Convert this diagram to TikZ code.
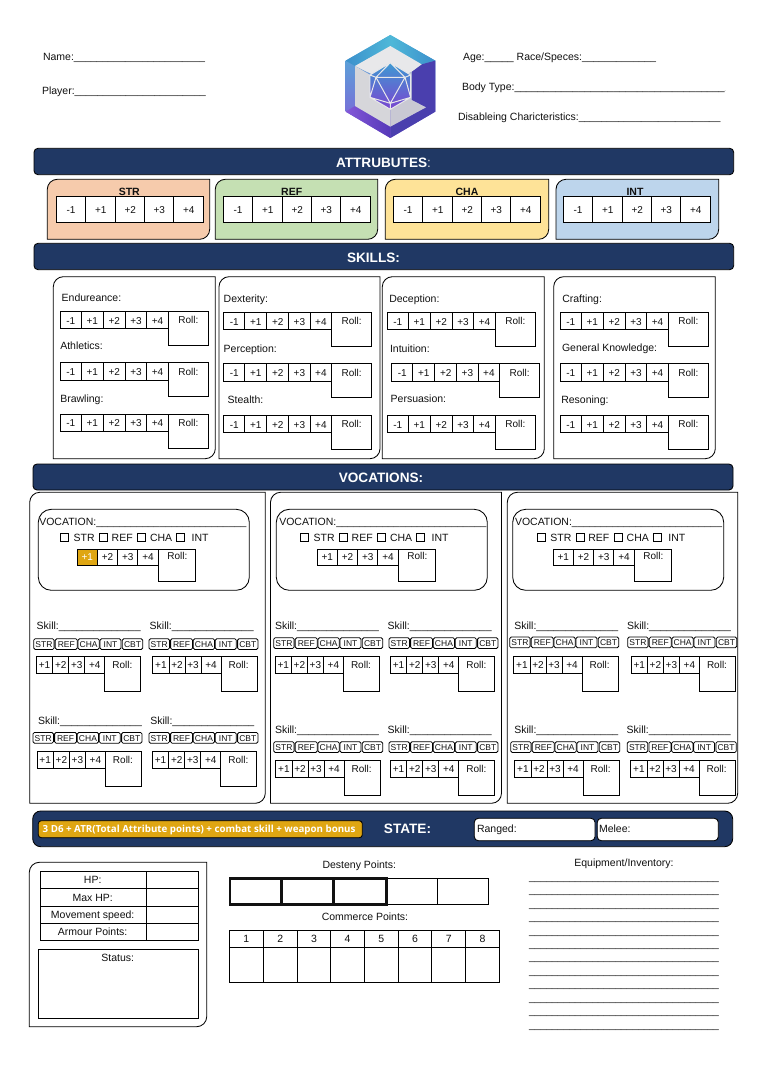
\documentclass[tikz,border=0pt]{standalone}
\usepackage{fontspec}
\setmainfont{Liberation Sans}
\newfontfamily\goldfont{Open Sans}
\definecolor{navy}{HTML}{203864}
\definecolor{gold}{HTML}{DFA612}
\definecolor{cstr}{HTML}{F6CBAC}
\definecolor{cref}{HTML}{C5E0B3}
\definecolor{ccha}{HTML}{FEE398}
\definecolor{cint}{HTML}{BDD5EC}
\definecolor{ink}{HTML}{111111}
\definecolor{lgA}{HTML}{4FB8D8}
\definecolor{lgB}{HTML}{3C90CC}
\definecolor{lgC}{HTML}{5F86D4}
\definecolor{lgD}{HTML}{8458D8}
\definecolor{lgE}{HTML}{4A3FAE}
\definecolor{lgF}{HTML}{5538B8}
\definecolor{lgG}{HTML}{E8E8EA}
\definecolor{lgH}{HTML}{D6D6DA}
\definecolor{lgI}{HTML}{C9C9D3}
\definecolor{lgJ}{HTML}{3E9AD2}
\definecolor{lgK}{HTML}{5B50D0}
\definecolor{lgL}{HTML}{7A45D0}
\ExplSyntaxOn
\cs_new:Npn \usl #1 {\prg_replicate:nn{#1}{\_}}
\ExplSyntaxOff
\newcommand\uslf[2]{{\fontsize{#2}{12}\selectfont\usl{#1}}}
\newcounter{nn}
\tikzset{
 ln/.style={draw=black,line width=0.85pt},
 txt/.style={inner sep=0pt,outer sep=0pt,text=ink,font=\fontsize{10.5}{12}\selectfont,/utils/exec={\stepcounter{nn}},name/.expanded=t\arabic{nn}},
 small/.style={font=\fontsize{10}{12}\selectfont},
 tiny/.style={font=\fontsize{8.5}{10}\selectfont},
 bar/.style={draw=black,line width=0.85pt,fill=navy,rounded corners=4pt},
 bartext/.style={txt,text=white,font=\fontsize{13.6}{16}\selectfont\bfseries},
 tagbox/.style={draw=black,line width=0.8pt,fill=white,rounded corners=1.5pt},
}
\newcommand\ctext[4][]{\node[txt,anchor=base,#1] at (#2,#3+3.7) {#4};}
\newcommand\ltext[4][]{\node[txt,anchor=base west,#1] at (#2,#3+3.7) {#4};}
% panel with rounded top-left and bottom-right corners
\newcommand\tlbr[6]{\path[#6] (#1,#4) -- (#1,#2+#5) .. controls (#1,#2+0.45*#5) and (#1+0.45*#5,#2) .. (#1+#5,#2) -- (#3,#2) -- (#3,#4-#5) .. controls (#3,#4-0.45*#5) and (#3-0.45*#5,#4) .. (#3-#5,#4) -- cycle;}
% attribute table
\newcommand\attr[6]{%
 \tlbr{#1}{179.3}{#2}{239.3}{10}{ln,fill=#3}
 \ctext[font=\fontsize{10.5}{12}\selectfont\bfseries]{#4}{191.7}{#5}
 \foreach \a/\b/\t in {0/29.4/-1,29.4/59.4/+1,59.4/88.4/+2,88.4/117.4/+3,117.4/147.4/+4}{
  \path[ln,fill=white] (#6+\a,196.3) rectangle (#6+\b,222.3);
  \ctext[small]{#6+0.5*\a+0.5*\b}{209.3}{\t}
 }}
% skills table: label, table x, label x, label y, table y
\newcommand\skillrow[5]{%
 \ltext{#3}{#4}{#1}
 \foreach \a/\b/\t in {0/21/-1,21/43/+1,43/65/+2,65/86.4/+3,86.4/108/+4}{
  \path[ln] (#2+\a,#5) rectangle (#2+\b,#5+17.3);
  \ctext[small]{#2+0.5*\a+0.5*\b}{#5+9}{\t}
 }
 \path[ln] (#2+108,#5) rectangle (#2+148,#5+34);
 \ctext[small]{#2+128}{#5+8.7}{Roll:}}
% vocation block
\newcommand\vocblock[4]{%
 \path[ln,rounded corners=13pt] (#1,509.3) rectangle (#1+211,590.3);
 \ltext{#1+#4}{521.3}{VOCATION:\uslf{26}{10.38}}
 \foreach \o/\s/\q in {0/13.4/STR,39/51.4/REF,77/89.7/CHA,116/131.4/INT}{
  \path[ln] (#2+\o,533.7) rectangle (#2+\o+8,541.7);
  \ltext{#2+\s}{537.3}{\q}
 }
 \foreach \a/\b/\t in {0/20/+1,20/40.4/+2,40.4/60.4/+3,60.4/81/+4}{
  \path[ln] (#3+\a,549.3) rectangle (#3+\b,565.7);
  \ctext[small]{#3+0.5*\a+0.5*\b}{556.9}{\t}
 }
 \path[ln] (#3+81,549.3) rectangle (#3+118.4,581.3);
 \ctext[small]{#3+100}{555.9}{Roll:}}
% skill cluster: label, tags and table
\newcommand\cluster[6]{%
 \ltext{#1}{#2}{Skill:\usl{14}}
 \foreach \o/\w/\q in {0/20.4/STR,21.6/22/REF,44.3/21.3/CHA,66.3/21/INT,88.6/20.4/CBT}{
  \path[tagbox] (#3+\o,#4) rectangle (#3+\o+\w,#4+10.8);
  \ctext[tiny]{#3+\o+0.5*\w}{#4+5.2}{\q}
 }
 \foreach \a/\b/\t in {0/16.4/+1,16.4/32.4/+2,32.4/48.4/+3,48.4/68.4/+4}{
  \path[ln] (#5+\a,#6) rectangle (#5+\b,#6+17);
  \ctext[small]{#5+0.5*\a+0.5*\b}{#6+8.3}{\t}
 }
 \path[ln] (#5+68.4,#6) rectangle (#5+104.4,#6+35);
 \ctext[small]{#5+86}{#6+8.3}{Roll:}}
\begin{document}
\begin{tikzpicture}[x=1pt,y=-1pt]
\useasboundingbox (0,0) rectangle (762,1079);
\fill[white] (0,0) rectangle (762,1079);

% header text
\ltext{43}{57}{Name:\uslf{23}{10.25}}
\ltext{42}{91}{Player:\uslf{23}{10.25}}
\ltext{463}{57}{Age:\usl{5} Race/Speces:\uslf{13}{10.24}}
\ltext{462}{87}{Body Type:\usl{36}\uslf{1}{2}}
\ltext{458}{117}{Disableing Charicteristics:\uslf{25}{10.2}}

% logo
\begin{scope}[shift={(320,20)},x=0.3333pt,y=-0.3333pt]
 \shade[top color=lgA,middle color=lgC,bottom color=lgD]
   (211,45) -- (346,122) -- (346,275) -- (211,354) -- (77,275) -- (77,122) -- cycle;
 \shade[left color=lgB,right color=lgA]
   (77,122) -- (211,45) -- (211,78) -- (105,138) -- cycle;
 \shade[left color=lgA,right color=lgB]
   (211,45) -- (346,122) -- (305,133) -- (211,78) -- cycle;
 \fill[lgE] (346,122) -- (346,275) -- (211,354) -- (211,320) -- (318,262) -- (275,240) -- (275,155) -- (305,133) -- cycle;
 \shade[left color=lgD,right color=lgF]
   (77,275) -- (211,354) -- (211,320) -- (105,258) -- cycle;
 \fill[lgG] (211,78) -- (305,133) -- (275,155) -- (211,190) -- (105,138) -- cycle;
 \fill[lgH] (105,138) -- (211,200) -- (211,320) -- (105,258) -- cycle;
 \fill[lgI] (211,200) -- (275,155) -- (275,240) -- (318,262) -- (211,320) -- cycle;
 \shade[top color=lgJ,middle color=lgK,bottom color=lgL]
   (211,128) -- (272,165) -- (272,232) -- (211,268) -- (150,232) -- (150,165) -- cycle;
 \draw[lgG,line width=1pt,line join=round]
   (211,128) -- (272,165) -- (272,232) -- (211,268) -- (150,232) -- (150,165) -- cycle
   (168,172) -- (255,172) -- (211,250) -- cycle
   (211,128) -- (168,172) (211,128) -- (255,172)
   (150,165) -- (168,172) (272,165) -- (255,172)
   (150,232) -- (168,172) (272,232) -- (255,172)
   (150,232) -- (211,250) (272,232) -- (211,250) (211,250) -- (211,268);
\end{scope}

% bars
\path[bar] (34,148.3) rectangle (733.7,174.7);
\node[bartext,anchor=base] (attrtitle) at (383.5,167.5) {ATTRUBUTES\textcolor{white!85!black}{\mdseries:}};
\path[bar] (34,243.3) rectangle (733.7,269.7);
\node[bartext,anchor=base] (skilltitle) at (373.5,262.2) {SKILLS:};
\path[bar] (33,464) rectangle (733,490);
\node[bartext,anchor=base] (voctitle) at (381,482) {VOCATIONS:};

% attributes
\attr{47.3}{209.7}{cstr}{129.3}{STR}{56.3}
\attr{215.3}{377.7}{cref}{291.7}{REF}{223.3}
\attr{385.3}{548.7}{ccha}{467}{CHA}{393.3}
\attr{556}{718.7}{cint}{635}{INT}{563.3}

% skills
\tlbr{53.3}{276.7}{215.3}{458.7}{10}{ln}
\tlbr{219}{276.7}{380}{458.7}{10}{ln}
\tlbr{382.3}{276.7}{544.3}{458.7}{10}{ln}
\tlbr{553.7}{276.7}{715.3}{458.7}{10}{ln}
\skillrow{Endureance:}{60.3}{61.7}{297.3}{311.3}
\skillrow{Athletics:}{60.3}{60.3}{346}{362.7}
\skillrow{Brawling:}{60.3}{60.3}{398.3}{414}
\skillrow{Dexterity:}{223.7}{223.7}{298.7}{312.3}
\skillrow{Perception:}{223.7}{223.7}{348.3}{363.7}
\skillrow{Stealth:}{223.7}{227.7}{400}{415.3}
\skillrow{Deception:}{387.3}{389.3}{298.7}{312.3}
\skillrow{Intuition:}{391.7}{390}{348.3}{363.7}
\skillrow{Persuasion:}{387.3}{390.7}{398.3}{415.3}
\skillrow{Crafting:}{560.3}{562.3}{298.7}{312.3}
\skillrow{General Knowledge:}{560.3}{562}{348}{363.7}
\skillrow{Resoning:}{560.3}{561.3}{400}{415.3}

% vocation panels
\tlbr{29.7}{492.3}{265.3}{803.3}{10}{ln}
\tlbr{270.5}{492.3}{501.5}{803.3}{10}{ln}
\tlbr{507.3}{492.3}{737.7}{803.3}{10}{ln}
\vocblock{38.3}{60.3}{77.3}{1}
\vocblock{276.3}{300.3}{317.3}{3}
\vocblock{512.7}{537}{553.3}{2.3}
\path[fill=gold,ln] (77.3,549.3) rectangle (97.3,565.7);
\ctext[small,text=white]{87.3}{556.9}{+1}
\cluster{36.7}{625.7}{33.7}{638.7}{36.3}{656.3}
\cluster{149.7}{625.7}{149}{638.7}{152.7}{656.3}
\cluster{38}{720.7}{33}{732.4}{37}{751.3}
\cluster{150.3}{720.7}{149}{732.4}{152.3}{751.3}
\cluster{275}{626}{273.7}{637.7}{275}{656.3}
\cluster{387.7}{626}{389}{637.7}{390.3}{656.3}
\cluster{275}{729.3}{273.7}{741.7}{275.7}{760.3}
\cluster{387.7}{729.3}{389}{741.7}{390.3}{760.3}
\cluster{514.3}{626}{509.7}{637}{513.7}{656.3}
\cluster{627}{626}{627.7}{637}{631}{656.3}
\cluster{514.3}{729.3}{510.7}{741.7}{514.7}{760.3}
\cluster{626.7}{729.3}{627.3}{741.7}{630.7}{760.3}

% state bar
\path[bar,rounded corners=8pt] (32.7,811) rectangle (732.7,846.7);
\path[draw=black,line width=0.85pt,fill=gold,rounded corners=3pt] (38.3,820.7) rectangle (362.3,837.7);
\node[txt,anchor=base west,text=white,font=\goldfont\fontsize{9.75}{11}\selectfont\bfseries] (formula) at (42.7,832.7) {3 D6 + ATR(Total Attribute points) + combat skill + weapon bonus};
\node[bartext,anchor=base] (statetitle) at (407.5,833.8) {STATE:};
\path[draw=black,line width=0.85pt,fill=white,rounded corners=4pt] (474.3,818.3) rectangle (595,840.7);
\path[draw=black,line width=0.85pt,fill=white,rounded corners=4pt] (597.3,818.3) rectangle (718.3,840.7);
\ltext{477}{829}{Ranged:}
\ltext{599}{829}{Melee:}

% stats panel
\tlbr{29.3}{862.3}{206.7}{1026.7}{10}{ln}
\foreach \ya/\yb/\q in {871.3/888.3/HP:,888.3/906.3/Max HP:,906.3/923.3/Movement speed:,923.3/940.3/Armour Points:}{
 \path[ln] (40.3,\ya) rectangle (146.7,\yb);
 \path[ln] (146.7,\ya) rectangle (198.7,\yb);
 \ctext{92.7}{0.5*\ya+0.5*\yb}{\q}
}
\path[ln] (38.3,949.3) rectangle (198.7,1018.3);
\ctext{117.7}{957.3}{Status:}

% points
\ctext{359.3}{865}{Desteny Points:}
\path[ln] (386.7,878.3) rectangle (437.7,904.3);
\path[ln] (437.7,878.3) rectangle (488.7,904.3);
\foreach \a/\b in {230/281.7,281.7/333.7,333.7/386.7}{
 \path[draw=ink,line width=2.6pt] (\a,878.3) rectangle (\b,904.3);
}
\ctext{365}{916.7}{Commerce Points:}
\foreach \a/\b/\n in {229.3/263.3/1,263.3/297.3/2,297.3/330.7/3,330.7/364.3/4,364.3/398.3/5,398.3/431.7/6,431.7/465.7/7,465.7/499.3/8}{
 \path[ln] (\a,930.3) rectangle (\b,947.3);
 \path[ln] (\a,947.3) rectangle (\b,982.3);
 \ctext{0.5*\a+0.5*\b}{938.7}{\n}
}

% equipment
\ctext{624}{862.7}{Equipment/Inventory:}
\foreach \k in {0,...,11}{
 \node[txt,anchor=base west,font=\fontsize{10.35}{12}\selectfont] at (529,880.2+13.45*\k) {\usl{33}};
}
\end{tikzpicture}
\end{document}
